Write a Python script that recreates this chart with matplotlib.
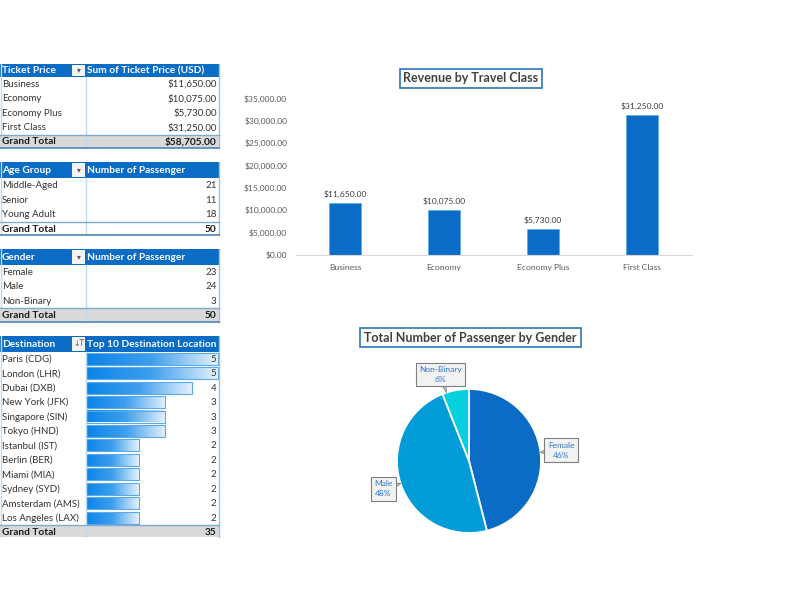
import matplotlib
matplotlib.use('Agg')
import matplotlib.pyplot as plt
import numpy as np
from matplotlib.colors import LinearSegmentedColormap
from matplotlib.patches import Rectangle

plt.rcParams['font.family'] = ['Lato', 'DejaVu Sans']

classes = ['Business', 'Economy', 'Economy Plus', 'First Class']
revenue = [11650, 10075, 5730, 31250]
revenue_total = 58705

age_groups = ['Middle-Aged', 'Senior', 'Young Adult']
age_counts = [21, 11, 18]

genders = ['Female', 'Male', 'Non-Binary']
gender_counts = [23, 24, 3]
gender_pct = ['46%', '48%', '6%']

destinations = ['Paris (CDG)', 'London (LHR)', 'Dubai (DXB)', 'New York (JFK)',
                'Singapore (SIN)', 'Tokyo (HND)', 'Istanbul (IST)', 'Berlin (BER)',
                'Miami (MIA)', 'Sydney (SYD)', 'Amsterdam (AMS)', 'Los Angeles (LAX)']
dest_counts = [5, 5, 4, 3, 3, 3, 2, 2, 2, 2, 2, 2]

BLUE = '#0a6cc4'
TEXT = '#333333'
LINE = '#9cc3e6'
grad_cmap = LinearSegmentedColormap.from_list('bar', ['#0a84e8', '#3f9fee', '#e3f1fc'])

fig = plt.figure(figsize=(8, 6), dpi=100)

# whole figure axes in pixels, used for the pivot tables and titles
bg = fig.add_axes([0, 0, 1, 1])
bg.set_xlim(0, 800)
bg.set_ylim(600, 0)
bg.axis('off')


def money(v):
    return f'${v:,.2f}'


def pivot(top, head_h, head1, head2, names, vals, total, gray=True, bars=False, filt='▾', cut=None):
    step = 14.45
    sep = 85.5
    bg.add_patch(Rectangle((0, top), 219, head_h, fc=BLUE, ec='none'))
    bg.add_patch(Rectangle((72, top + 1), 13, head_h - 2, fc='#f4f4f4', ec='none'))
    bg.text(78.5, top + head_h / 2, filt, color='#555555', fontsize=5.5, ha='center', va='center',
            family=['DejaVu Sans'])
    bg.text(2, top + head_h / 2 + 0.5, head1, color='white', fontsize=7.3, fontweight='bold', va='center')
    bg.text(87, top + head_h / 2 + 0.5, head2, color='white', fontsize=7.3, fontweight='bold', va='center')
    y = top + head_h + 7.2
    for i, n in enumerate(names):
        yy = y + i * step
        if bars:
            w = vals[i] * 26.4
            grad = np.linspace(0, 1, 64).reshape(1, -1)
            bg.imshow(grad, extent=(86, 86 + w, yy + 6, yy - 6), cmap=grad_cmap, aspect='auto', zorder=1)
            bg.add_patch(Rectangle((86, yy - 6), w, 12, fc='none', ec='#5aa9ea', lw=0.8, zorder=2))
        bg.text(2, yy + 0.5, n, color=TEXT, fontsize=7, va='center', zorder=3)
        v = vals[i]
        bg.text(216.5, yy + 0.5, money(v) if v > 100 else str(v), color=TEXT, fontsize=7, ha='right',
                va='center', zorder=3)
    yt = y + len(names) * step
    h = cut if cut else 13.5
    if gray:
        bg.add_patch(Rectangle((0, yt - 7), 219, h, fc='#d9d9d9', ec='none', zorder=0))
    bg.text(2, yt + 0.5, 'Grand Total', color='#1a1a1a', fontsize=7.3, fontweight='bold', va='center', zorder=3)
    bg.text(216.5, yt + 0.5, money(total) if total > 100 else str(total), color='#1a1a1a', fontsize=7.3,
            fontweight='bold', ha='right', va='center', zorder=3)
    bg.plot([sep, sep], [top + head_h, yt - 7 + h], color='#bcdcf5', lw=1, zorder=2)
    bg.plot([219, 219], [top, yt - 7 + h], color=LINE, lw=1, zorder=2)
    bg.plot([0.5, 0.5], [top, yt - 7 + h], color='#bcdcf5', lw=1, zorder=2)
    bg.plot([0, 219], [yt - 7, yt - 7], color='#7fa9cf', lw=1, zorder=2)
    if not cut:
        bg.plot([0, 219], [yt + 6.5, yt + 6.5], color='#4f86b8', lw=1.2, zorder=2)


pivot(63.5, 13, 'Ticket Price', 'Sum of Ticket Price (USD)', classes, revenue, revenue_total)
pivot(162, 16, 'Age Group', 'Number of Passenger', age_groups, age_counts, sum(age_counts), gray=False)
pivot(249, 15.5, 'Gender', 'Number of Passenger', genders, gender_counts, sum(gender_counts))
pivot(336, 15.5, 'Destination', 'Top 10 Destination Location', destinations, dest_counts,
      sum(dest_counts), bars=True, filt='↓T', cut=12)
bg.set_xlim(0, 800)
bg.set_ylim(600, 0)

# titles with box
title_box = dict(boxstyle='square,pad=0.3', fc='white', ec='#2e75b6', lw=1.2)
bg.text(471, 78.5, 'Revenue by Travel Class', color='#404040', fontsize=9, fontweight='bold',
        ha='center', va='center', bbox=title_box)
bg.text(470.5, 337.5, 'Total Number of Passenger by Gender', color='#404040', fontsize=9,
        fontweight='bold', ha='center', va='center', bbox=title_box)

# bar chart
ax = fig.add_axes([295.5 / 800, 1 - 254.7 / 600, 396 / 800, 156.2 / 600])
x = np.arange(len(classes))
ax.bar(x, revenue, width=0.315, color=BLUE, edgecolor='#5aa9ea', linewidth=0.5)
ax.set_xlim(-0.5, 3.5)
ax.set_ylim(0, 35000)
ax.set_xticks(x)
ax.set_xticklabels(classes)
ax.set_yticks(range(0, 35001, 5000))
ax.set_yticklabels([money(v) for v in range(0, 35001, 5000)])
ax.tick_params(length=0, labelsize=6.1, labelcolor='#595959')
ax.tick_params(axis='x', pad=6.5)
ax.tick_params(axis='y', pad=6)
for s in ['top', 'right', 'left']:
    ax.spines[s].set_visible(False)
ax.spines['bottom'].set_color('#d9d9d9')
ax.patch.set_alpha(0)
for i, v in enumerate(revenue):
    ax.annotate(money(v), (i, v), xytext=(0, 4.5), textcoords='offset points', ha='center',
                fontsize=6.1, color='#404040')

# pie chart
cx, cy, r = 469, 461, 72
pie_ax = fig.add_axes([(cx - r) / 800, 1 - (cy + r) / 600, 2 * r / 800, 2 * r / 600])
wedges, _ = pie_ax.pie(gender_counts, colors=[BLUE, '#029dd9', '#06d0de'], startangle=90, counterclock=False,
                       radius=1, wedgeprops=dict(edgecolor='white', linewidth=1.3))
pie_ax.set_xlim(-1, 1)
pie_ax.set_ylim(-1, 1)

# callout labels, the tip sits on the pie edge nearest the label
label_pos = [(561, 450), (383.5, 489), (440.5, 374.5)]
for i, w in enumerate(wedges):
    lx, ly = label_pos[i]
    d = np.array([lx - cx, cy - ly], dtype=float)
    tip = d / np.hypot(*d)
    pie_ax.annotate(f'{genders[i]}\n{gender_pct[i]}', xy=tip, xycoords='data',
                    xytext=(lx / 800, 1 - ly / 600), textcoords='figure fraction',
                    ha='center', va='center', fontsize=6, color='#2e75d0', linespacing=1.5,
                    bbox=dict(boxstyle='square,pad=0.4', fc='#f2f2f2', ec='#7f7f7f', lw=0.8),
                    arrowprops=dict(arrowstyle='wedge,tail_width=0.35,shrink_factor=0.5', fc='#f2f2f2',
                                    ec='#7f7f7f', lw=0.7, shrinkA=0, shrinkB=0),
                    annotation_clip=False)

fig.savefig('out.png', dpi=100, facecolor='white')
